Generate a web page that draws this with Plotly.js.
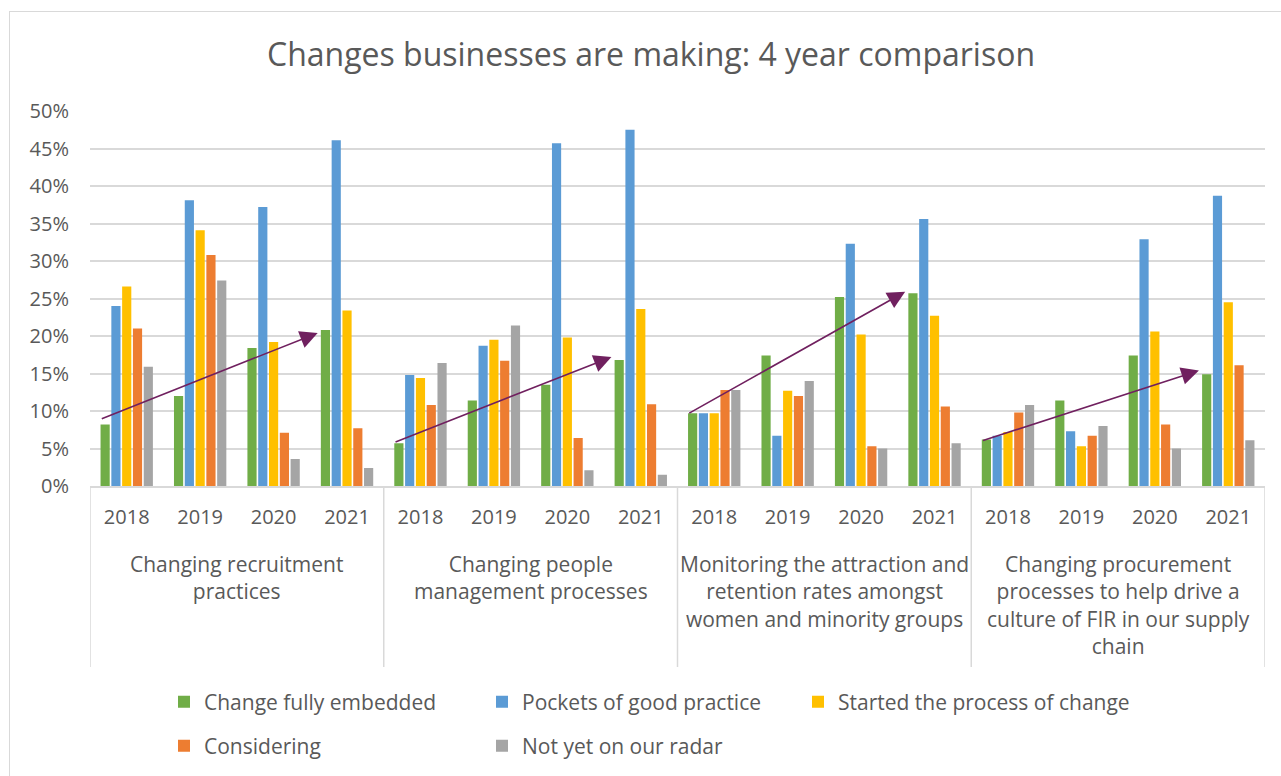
<!DOCTYPE html>
<html>
<head>
<meta charset="utf-8">
<script src="https://cdn.plot.ly/plotly-3.0.1.min.js"></script>
<style>
  html, body { margin: 0; padding: 0; background: #ffffff; overflow: hidden; }
  #chart { width: 1281px; height: 776px; }
  #frame { position: absolute; left: 9px; top: 11px; width: 1400px; height: 900px;
           border: 1px solid #d9d9d9; pointer-events: none; }
</style>
</head>
<body>
<div id="chart"></div>
<div id="frame"></div>
<script>
// ---- data ----
const groups = [
  "Changing recruitment<br>practices",
  "Changing people<br>management processes",
  "Monitoring the attraction and<br>retention rates amongst<br>women and minority groups",
  "Changing procurement<br>processes to help drive a<br>culture of FIR in our supply<br>chain"
];
const years = ["2018", "2019", "2020", "2021"];
const seriesNames = [
  "Change fully embedded",
  "Pockets of good practice",
  "Started the process of change",
  "Considering",
  "Not yet on our radar"
];
// values per series, ordered group by group, year by year (16 values)
const changeFullyEmbedded = [0.082, 0.120, 0.184, 0.208,  0.057, 0.114, 0.135, 0.168,  0.097, 0.174, 0.252, 0.257,  0.062, 0.114, 0.174, 0.149];
const pocketsOfGoodPractice = [0.240, 0.381, 0.372, 0.461,  0.148, 0.187, 0.457, 0.475,  0.097, 0.067, 0.323, 0.356,  0.067, 0.073, 0.329, 0.387];
const startedProcess = [0.266, 0.341, 0.192, 0.234,  0.144, 0.195, 0.198, 0.236,  0.097, 0.127, 0.202, 0.227,  0.072, 0.053, 0.206, 0.245];
const considering = [0.210, 0.308, 0.071, 0.077,  0.108, 0.167, 0.064, 0.109,  0.128, 0.120, 0.053, 0.106,  0.098, 0.067, 0.082, 0.161];
const notYetOnRadar = [0.159, 0.274, 0.036, 0.024,  0.164, 0.214, 0.021, 0.015,  0.128, 0.140, 0.050, 0.057,  0.108, 0.080, 0.050, 0.061];
// trend arrows per group: start and end level
const trendFrom = [0.089, 0.058, 0.096, 0.060];
const trendTo   = [0.204, 0.172, 0.259, 0.154];

const seriesValues = [changeFullyEmbedded, pocketsOfGoodPractice, startedProcess, considering, notYetOnRadar];
const colors = ["#70AD47", "#5B9BD5", "#FFC000", "#ED7D31", "#A5A5A5"];

// ---- build ----
const nCat = groups.length * years.length;
const xIdx = [];
const tickText = [];
for (let g = 0; g < groups.length; g++) {
  for (let y = 0; y < years.length; y++) { xIdx.push(g * years.length + y); tickText.push(years[y]); }
}

const legendNames = ["legend", "legend2", "legend3", "legend4", "legend5"];
const traces = seriesNames.map((name, i) => ({
  type: "bar",
  name: name,
  x: xIdx,
  y: seriesValues[i],
  marker: { color: colors[i] },
  legend: legendNames[i],
  showlegend: true,
  hovertemplate: "%{y:.1%}<extra>" + name + "</extra>"
}));

const textColor = "#595959";
const font = "'Open Sans', 'Noto Sans', sans-serif";

const plotL = 90, plotR = 16, plotT = 111, plotB = 290;
const W = 1281, H = 776;
const pw = W - plotL - plotR, ph = H - plotT - plotB;
const px2x = px => (px - plotL) / pw;
const px2y = py => (H - plotB - py) / ph;

function legendAt(textPx, centerPy) {
  return {
    x: px2x(textPx - 40), xanchor: "left",
    y: px2y(centerPy), yanchor: "middle",
    orientation: "v", bgcolor: "rgba(0,0,0,0)",
    font: { family: font, size: 21, color: textColor }
  };
}

const shapes = [];
for (let g = 0; g <= groups.length; g++) {
  shapes.push({
    type: "line", xref: "x", yref: "paper",
    x0: g * years.length - 0.5, x1: g * years.length - 0.5,
    y0: 0, y1: px2y(667),
    line: { color: "#d9d9d9", width: 1.5 }
  });
}

const annotations = [];
groups.forEach((gName, g) => {
  annotations.push({
    xref: "x", yref: "paper",
    x: g * years.length + (years.length - 1) / 2, y: px2y(548),
    xanchor: "center", yanchor: "top",
    text: gName, showarrow: false, align: "center",
    font: { family: font, size: 21, color: textColor }
  });
  annotations.push({
    xref: "x", yref: "y", axref: "x", ayref: "y",
    x: g * years.length + 2.6, y: trendTo[g],
    ax: g * years.length - 0.36, ay: trendFrom[g],
    text: "", showarrow: true,
    arrowhead: 2, arrowsize: 2.2, arrowwidth: 1.6, arrowcolor: "#70205F"
  });
});

const layout = {
  width: W, height: H,
  margin: { l: plotL, r: plotR, t: plotT, b: plotB, autoexpand: false },
  paper_bgcolor: "#ffffff", plot_bgcolor: "#ffffff",
  font: { family: font, color: textColor },
  showlegend: true,
  title: {
    text: "Changes businesses are making: 4 year comparison",
    x: 651 / W, xref: "container", xanchor: "center",
    y: 1 - 55 / H, yref: "container", yanchor: "middle",
    font: { family: font, size: 32, color: textColor }
  },
  barmode: "group",
  bargap: 0.265,
  bargroupgap: 0.15,
  xaxis: {
    type: "linear", range: [-0.5, nCat - 0.5],
    tickvals: xIdx, ticktext: tickText,
    showgrid: false, zeroline: false,
    showline: true, linecolor: "#d9d9d9", linewidth: 1.5,
    ticks: "", ticklabelstandoff: 12,
    tickfont: { family: font, size: 20, color: textColor },
    fixedrange: true
  },
  yaxis: {
    range: [0, 0.5], dtick: 0.05, tickformat: ".0%",
    showgrid: true, gridcolor: "#d9d9d9", gridwidth: 1.5,
    zeroline: false, showline: false, ticks: "",
    ticklabelstandoff: 20,
    tickfont: { family: font, size: 20, color: textColor },
    fixedrange: true
  },
  shapes: shapes,
  annotations: annotations,
  legend: legendAt(204, 702),
  legend2: legendAt(522, 702),
  legend3: legendAt(838, 702),
  legend4: legendAt(204, 746),
  legend5: legendAt(522, 746)
};

Plotly.newPlot("chart", traces, layout, { displayModeBar: false, responsive: false });
</script>
</body>
</html>
